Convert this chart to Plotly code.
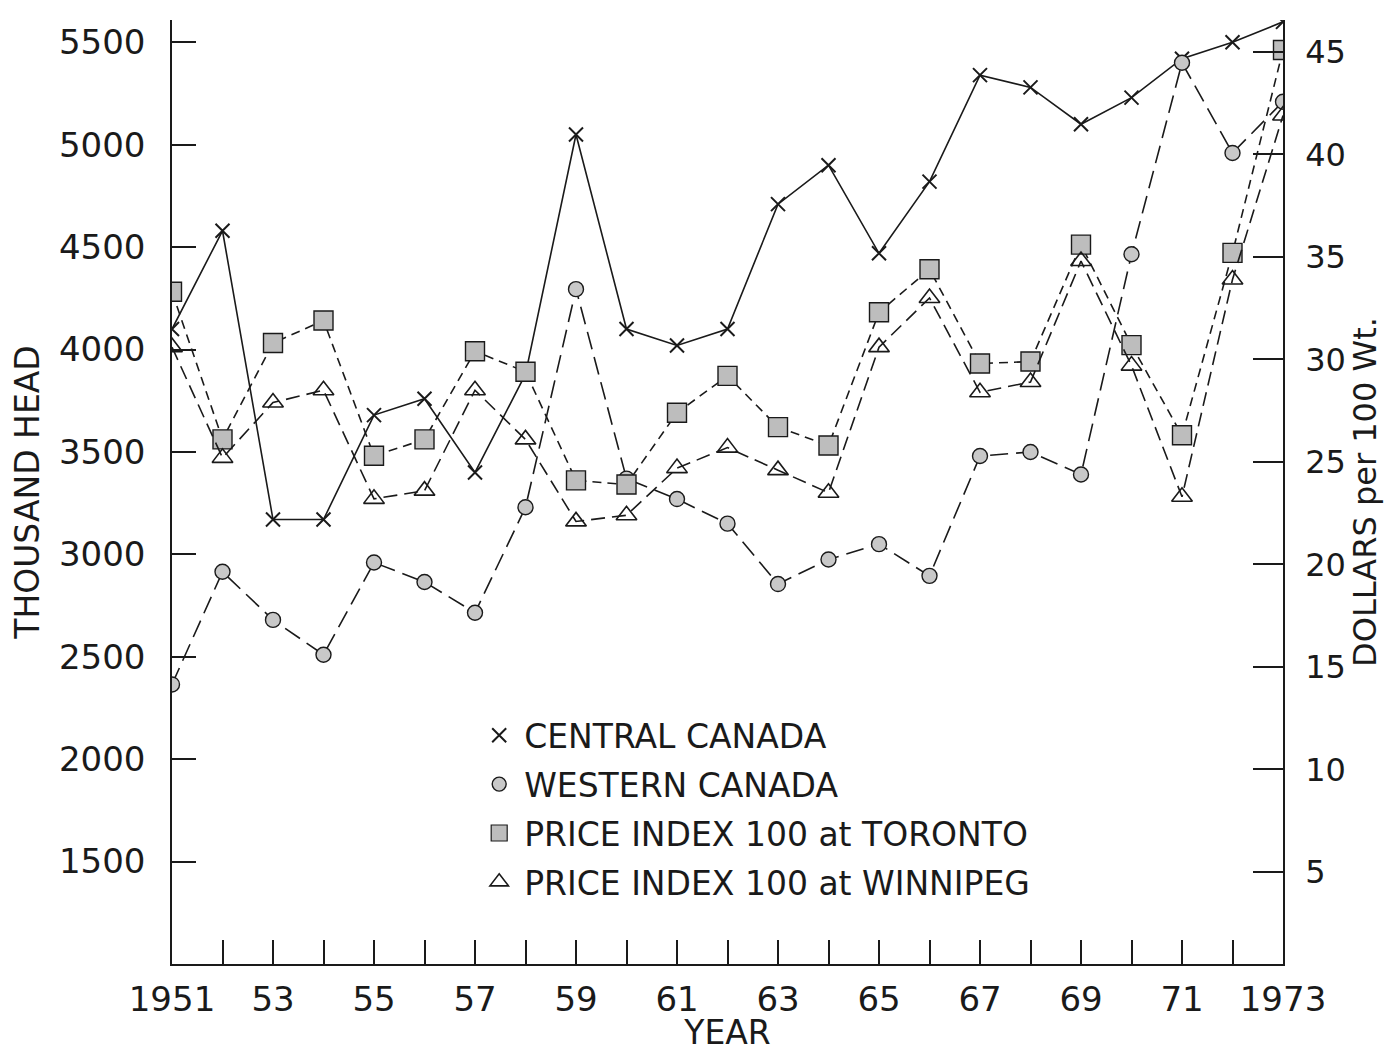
import plotly.graph_objects as go

years = list(range(1951, 1974))
central_canada = [4100, 4580, 3170, 3170, 3680, 3760, 3400, 3880, 5050, 4100, 4020, 4100,
                  4710, 4900, 4470, 4820, 5340, 5280, 5100, 5230, 5420, 5500, 5600]
western_canada = [2365, 2915, 2680, 2510, 2960, 2865, 2715, 3230, 4295, 3370, 3270, 3150,
                  2855, 2975, 3050, 2895, 3480, 3500, 3390, 4465, 5400, 4960, 5210]
toronto_price = [33.3, 26.1, 30.8, 31.9, 25.3, 26.1, 30.4, 29.4, 24.1, 23.9, 27.4, 29.2,
                 26.7, 25.8, 32.3, 34.4, 29.8, 29.9, 35.6, 30.7, 26.3, 35.2, 45.1]
winnipeg_price = [30.6, 25.2, 27.9, 28.5, 23.2, 23.6, 28.5, 26.1, 22.1, 22.4, 24.7, 25.7,
                  24.6, 23.5, 30.6, 33.0, 28.4, 28.9, 34.8, 29.7, 23.3, 33.9, 41.9]

x_tick_text = ["1951", "", "53", "", "55", "", "57", "", "59", "", "61", "", "63", "", "65", "",
               "67", "", "69", "", "71", "", "1973"]
left_ticks = [1500, 2000, 2500, 3000, 3500, 4000, 4500, 5000, 5500]
right_ticks = [5, 10, 15, 20, 25, 30, 35, 40, 45]

names = ["CENTRAL CANADA", "WESTERN CANADA", "PRICE INDEX 100 at TORONTO", "PRICE INDEX 100 at WINNIPEG"]

INK = "#1a1a1a"
FONT = "DejaVu Sans"

fig = go.Figure()

fig.add_trace(go.Scatter(x=years, y=central_canada, mode="lines+markers", showlegend=False,
                         line=dict(color=INK, width=1.6),
                         marker=dict(symbol="x-thin-open", size=14, color=INK, line=dict(color=INK, width=2))))
fig.add_trace(go.Scatter(x=years, y=western_canada, mode="lines+markers", showlegend=False,
                         line=dict(color=INK, width=1.6, dash="18px,8px"),
                         marker=dict(symbol="circle", size=15, color="#c8c8c8", line=dict(color=INK, width=1.4))))
fig.add_trace(go.Scatter(x=years, y=toronto_price, yaxis="y2", mode="lines+markers", showlegend=False,
                         line=dict(color=INK, width=1.6, dash="9px,6px"),
                         marker=dict(symbol="square", size=19, color="#bdbdbd", line=dict(color=INK, width=1.4))))
fig.add_trace(go.Scatter(x=years, y=winnipeg_price, yaxis="y2", mode="lines+markers", showlegend=False,
                         line=dict(color=INK, width=1.6, dash="14px,7px"),
                         marker=dict(symbol="triangle-up-open", size=18, color=INK, line=dict(color=INK, width=1.6))))

# legend-only entries (markers only, like the original key)
legend_markers = [
    dict(symbol="x-thin-open", size=14, color=INK, line=dict(color=INK, width=2)),
    dict(symbol="circle", size=14, color="#c8c8c8", line=dict(color=INK, width=1.4)),
    dict(symbol="square", size=16, color="#bdbdbd", line=dict(color=INK, width=1.2)),
    dict(symbol="triangle-up-open", size=16, color=INK, line=dict(color=INK, width=1.6)),
]
for i, (nm, mk) in enumerate(zip(names, legend_markers)):
    fig.add_trace(go.Scatter(x=[None], y=[None], mode="markers", name=nm, marker=mk,
                             showlegend=True, legendgroup=f"g{i}"))

fig.update_layout(
    width=1380, height=1044,
    margin=dict(l=164, r=105, t=12, b=88, autoexpand=False),
    paper_bgcolor="white", plot_bgcolor="white",
    font=dict(family=FONT, color=INK, size=30),
    showlegend=True,
    legend=dict(x=0.272, y=0.272, xanchor="left", yanchor="top",
                bgcolor="rgba(0,0,0,0)", font=dict(size=33, family=FONT, color=INK),
                itemwidth=40, tracegroupgap=3),
    xaxis=dict(range=[1951, 1973], tickmode="array", tickvals=years, ticktext=x_tick_text,
               ticks="inside", ticklen=24, tickwidth=1.5, tickcolor=INK, automargin=False,
               showline=True, linecolor=INK, linewidth=2, showgrid=False, zeroline=False,
               tickfont=dict(size=34, family=FONT, color=INK), ticklabelstandoff=4,
               title=dict(text="YEAR", font=dict(size=33, family=FONT, color=INK), standoff=12)),
    yaxis=dict(range=[1000, 5609], tickmode="array", tickvals=left_ticks,
               ticks="inside", ticklen=24, tickwidth=2, tickcolor=INK, automargin=False,
               showline=True, linecolor=INK, linewidth=1.5, showgrid=False, zeroline=False,
               tickfont=dict(size=34, family=FONT, color=INK), ticklabelstandoff=18,
               title=dict(text="THOUSAND HEAD", font=dict(size=33, family=FONT, color=INK), standoff=14)),
    yaxis2=dict(range=[0.51, 46.56], overlaying="y", side="right", tickmode="array", tickvals=right_ticks,
                ticks="inside", ticklen=30, tickwidth=2, tickcolor=INK, automargin=False,
                showline=True, linecolor=INK, linewidth=1.5, showgrid=False, zeroline=False,
                tickfont=dict(size=32, family=FONT, color=INK), ticklabelstandoff=14,
                title=dict(text="DOLLARS per 100 Wt.", font=dict(size=32, family=FONT, color=INK), standoff=8)),
)

fig.write_html("out.html")
